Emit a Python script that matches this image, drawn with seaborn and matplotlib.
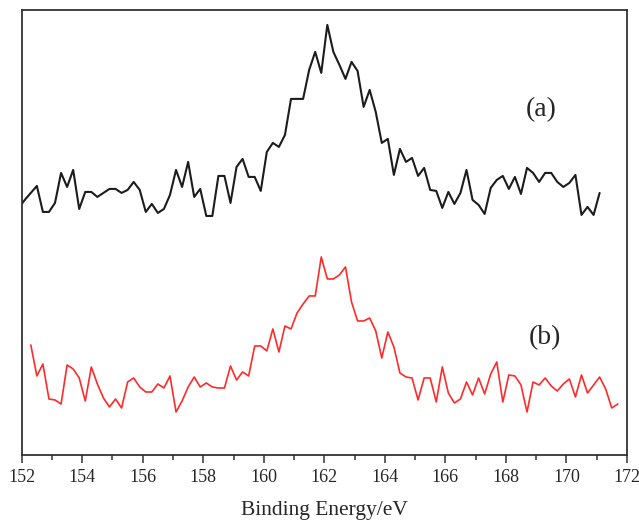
import numpy as np
import pandas as pd
import matplotlib
matplotlib.use("Agg")
import matplotlib.pyplot as plt
from matplotlib.ticker import MultipleLocator
import seaborn as sns

# Spettri (energia di legame in eV, intensita' in u.a.)
energy_a = [151.9, 152.1, 152.3, 152.5, 152.7, 152.9, 153.1, 153.3, 153.5, 153.7,
            153.9, 154.1, 154.3, 154.5, 154.7, 154.9, 155.1, 155.3, 155.5, 155.7,
            155.9, 156.1, 156.3, 156.5, 156.7, 156.9, 157.1, 157.3, 157.5, 157.7,
            157.9, 158.1, 158.3, 158.5, 158.7, 158.9, 159.1, 159.3, 159.5, 159.7,
            159.9, 160.1, 160.3, 160.5, 160.7, 160.9, 161.1, 161.3, 161.5, 161.7,
            161.9, 162.1, 162.3, 162.5, 162.7, 162.9, 163.1, 163.3, 163.5, 163.7,
            163.9, 164.1, 164.3, 164.5, 164.7, 164.9, 165.1, 165.3, 165.5, 165.7,
            165.9, 166.1, 166.3, 166.5, 166.7, 166.9, 167.1, 167.3, 167.5, 167.7,
            167.9, 168.1, 168.3, 168.5, 168.7, 168.9, 169.1, 169.3, 169.5, 169.7,
            169.9, 170.1, 170.3, 170.5, 170.7, 170.9, 171.1]
intensity_a = [247, 255, 262, 269, 243, 243, 252, 282, 268, 285,
               246, 263, 263, 258, 262, 266, 266, 262, 265, 273,
               265, 243, 251, 242, 246, 260, 285, 268, 293, 258,
               266, 239, 239, 279, 279, 252, 288, 296, 278, 278,
               264, 303, 312, 308, 320, 356, 356, 356, 385, 403,
               382, 430, 403, 390, 376, 393, 384, 348, 365, 343,
               312, 316, 280, 306, 293, 297, 279, 287, 265, 264,
               247, 263, 251, 262, 285, 255, 250, 241, 267, 275,
               279, 266, 278, 261, 287, 282, 273, 282, 282, 273,
               268, 272, 280, 240, 248, 240, 262]

energy_b = [152.3, 152.5, 152.7, 152.9, 153.1, 153.3, 153.5, 153.7, 153.9, 154.1,
            154.3, 154.5, 154.7, 154.9, 155.1, 155.3, 155.5, 155.7, 155.9, 156.1,
            156.3, 156.5, 156.7, 156.9, 157.1, 157.3, 157.5, 157.7, 157.9, 158.1,
            158.3, 158.5, 158.7, 158.9, 159.1, 159.3, 159.5, 159.7, 159.9, 160.1,
            160.3, 160.5, 160.7, 160.9, 161.1, 161.3, 161.5, 161.7, 161.9, 162.1,
            162.3, 162.5, 162.7, 162.9, 163.1, 163.3, 163.5, 163.7, 163.9, 164.1,
            164.3, 164.5, 164.7, 164.9, 165.1, 165.3, 165.5, 165.7, 165.9, 166.1,
            166.3, 166.5, 166.7, 166.9, 167.1, 167.3, 167.5, 167.7, 167.9, 168.1,
            168.3, 168.5, 168.7, 168.9, 169.1, 169.3, 169.5, 169.7, 169.9, 170.1,
            170.3, 170.5, 170.7, 170.9, 171.1, 171.3, 171.5, 171.7]
intensity_b = [110, 79, 91, 56, 55, 51, 90, 86, 77, 54,
               88, 71, 57, 48, 56, 47, 73, 77, 68, 63,
               63, 71, 67, 79, 43, 54, 68, 78, 68, 72,
               68, 67, 67, 89, 75, 83, 79, 109, 109, 104,
               126, 103, 129, 126, 142, 151, 159, 159, 198, 176,
               176, 180, 188, 153, 134, 134, 137, 124, 97, 123,
               108, 82, 78, 77, 55, 77, 77, 53, 88, 62,
               52, 56, 73, 60, 77, 61, 81, 93, 53, 80,
               79, 70, 43, 73, 70, 77, 69, 64, 71, 76,
               58, 80, 62, 70, 78, 66, 47, 51]

x_ticks = [152, 154, 156, 158, 160, 162, 164, 166, 168, 170, 172]

sns.set_theme(style="ticks")
plt.rcParams['font.family'] = ['Liberation Serif', 'DejaVu Serif']

fig = plt.figure(figsize=(6.39, 5.20), dpi=100)
ax = fig.add_axes([0.034, 0.125, 0.947, 0.856])

df_a = pd.DataFrame({'energy': energy_a, 'intensity': intensity_a})
df_b = pd.DataFrame({'energy': energy_b, 'intensity': intensity_b})
sns.lineplot(data=df_a, x='energy', y='intensity', color='#1c1c1c', linewidth=1.5,
             estimator=None, sort=False, ax=ax)
sns.lineplot(data=df_b, x='energy', y='intensity', color='#ff2a2a', linewidth=1.2,
             estimator=None, sort=False, ax=ax)

ax.set_xlim(152, 172)
ax.set_ylim(0, 445)
ax.set_xticks(x_ticks)
ax.set_xticklabels([str(t) for t in x_ticks])
ax.xaxis.set_minor_locator(MultipleLocator(1))
ax.set_yticks([])
ax.tick_params(axis='x', which='major', direction='out', length=6, width=1.1,
               labelsize=13, pad=4, color='#333333')
ax.tick_params(axis='x', which='minor', direction='out', length=3.5, width=1.1,
               color='#333333')
ax.set_xlabel('Binding Energy/eV', fontsize=15.5, labelpad=11)
ax.set_ylabel('')

for side in ['left', 'right', 'top', 'bottom']:
    ax.spines[side].set_visible(True)
    ax.spines[side].set_color('#333333')
    ax.spines[side].set_linewidth(1.3)

ax.text(169.17, 345, '(a)', fontsize=20, ha='center', va='center')
ax.text(169.3, 117, '(b)', fontsize=20, ha='center', va='center')

fig.savefig('out.png', dpi=100)
plt.close(fig)
